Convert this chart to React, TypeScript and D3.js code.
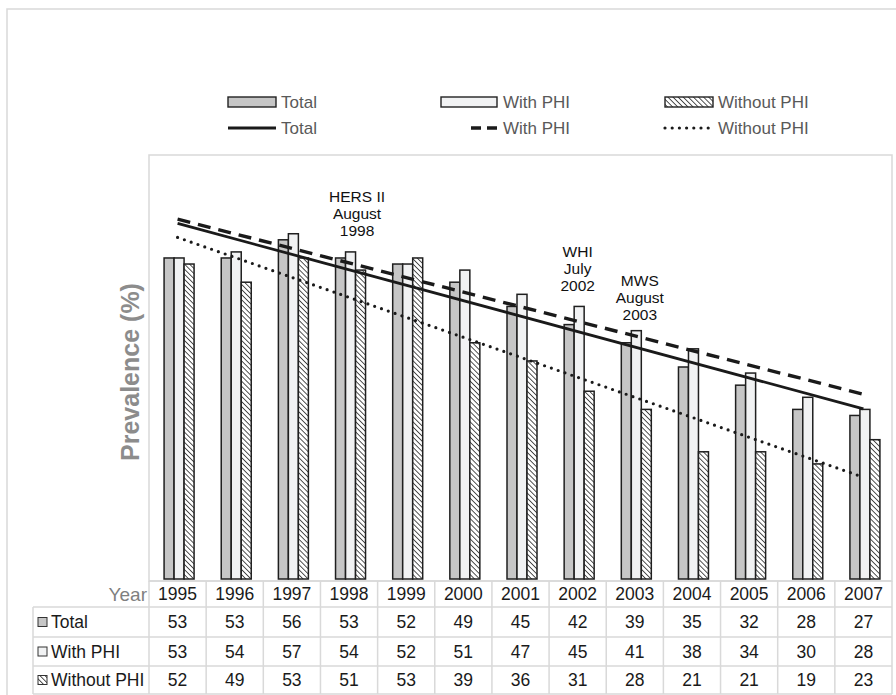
import React from 'react';
import * as d3 from 'd3';

// data
const years = ['1995', '1996', '1997', '1998', '1999', '2000', '2001', '2002', '2003', '2004', '2005', '2006', '2007'];
const seriesNames = ['Total', 'With PHI', 'Without PHI'];
const totalValues = [53, 53, 56, 53, 52, 49, 45, 42, 39, 35, 32, 28, 27];
const withPhiValues = [53, 54, 57, 54, 52, 51, 47, 45, 41, 38, 34, 30, 28];
const withoutPhiValues = [52, 49, 53, 51, 53, 39, 36, 31, 28, 21, 21, 19, 23];
// linear trend lines, first and last year values
const trendStart = [58.7, 59.4, 56.4];
const trendEnd = [28.1, 30.5, 16.8];
const annotationLines = [['HERS II', 'August', '1998'], ['WHI', 'July', '2002'], ['MWS', 'August', '2003']];
const annotationYears = ['1998', '2002', '2003'];
const annotationValues = [63.2, 54.1, 49.2];

const W = 896;
const H = 695;
const plotLeft = 149;
const plotRight = 892;
const plotTop = 155;
const plotBottom = 581;
const rowH = [26, 30, 29, 28];

const fills = ['#c6c6c6', '#f1f2f3', 'url(#hatch)'];
const grid = '#d9d9d9';
const font = 'Liberation Sans, Arial, sans-serif';

export default function App() {
  const series = [totalValues, withPhiValues, withoutPhiValues];
  const x = d3.scaleBand<string>().domain(years).range([plotLeft, plotRight]);
  const y = d3.scaleLinear().domain([0, 70]).range([plotBottom - 2, plotTop]);
  const barW = 10;
  const inner = d3.scaleBand<number>().domain([0, 1, 2]).range([0, barW * 3]);
  const groupOffset = (x.bandwidth() - barW * 3) / 2 + 1.5;
  const cx = (yr: string) => (x(yr) as number) + x.bandwidth() / 2;

  const line = d3.line<[number, number]>().x(d => d[0]).y(d => d[1]);
  const trendStyles = [
    { w: 2.8, dash: undefined, cap: 'butt' },
    { w: 3.4, dash: '13 8', cap: 'butt' },
    { w: 3.2, dash: '0 7.2', cap: 'round' },
  ];

  // table rows
  const rowTops: number[] = [];
  let acc = plotBottom;
  rowH.forEach(h => { rowTops.push(acc); acc += h; });
  const tableBottom = acc;

  const legendCols = [228, 441, 665];
  const legendRows = [102, 128];
  const legendText = '#595959';

  return (
    <svg width={W} height={H} style={{ position: 'absolute', left: 0, top: 0, background: '#fff', fontFamily: font }}>
      <defs>
        <pattern id="hatch" patternUnits="userSpaceOnUse" width="3.6" height="3.6" patternTransform="rotate(-45)">
          <rect width="3.6" height="3.6" fill="#fff" />
          <line x1="0" y1="0" x2="0" y2="3.6" stroke="#1a1a1a" strokeWidth="1.5" />
        </pattern>
      </defs>
      {/* outer frame */}
      <rect x={7} y={9} width={W} height={H} fill="none" stroke={grid} strokeWidth={1.5} />
      {/* plot area */}
      <rect x={plotLeft} y={plotTop} width={plotRight - plotLeft} height={plotBottom - plotTop} fill="none" stroke={grid} strokeWidth={1.5} />

      {/* legend */}
      {seriesNames.map((name, i) => (
        <g key={'lb' + i}>
          <rect x={legendCols[i]} y={legendRows[0] - 5} width={i === 1 ? 56 : 48} height={10} fill={fills[i]} stroke="#222" strokeWidth={1.4} />
          <text x={legendCols[i] + (i === 1 ? 62 : 53)} y={legendRows[0]} dy="0.35em" fontSize={17} fill={legendText}>{name}</text>
        </g>
      ))}
      {seriesNames.map((name, i) => {
        const x0 = i === 1 ? legendCols[i] + 30 : legendCols[i];
        const x1 = i === 1 ? legendCols[i] + 56 : legendCols[i] + 48;
        return (
          <g key={'ll' + i}>
            <path d={line([[x0, legendRows[1]], [x1, legendRows[1]]]) as string} stroke="#1a1a1a" strokeWidth={trendStyles[i].w}
              strokeDasharray={i === 1 ? '10 6' : trendStyles[i].dash} strokeLinecap={trendStyles[i].cap as any} fill="none" />
            <text x={legendCols[i] + (i === 1 ? 62 : 53)} y={legendRows[1]} dy="0.35em" fontSize={17} fill={legendText}>{name}</text>
          </g>
        );
      })}

      {/* bars */}
      {years.map((yr, j) => (
        <g key={yr} transform={`translate(${(x(yr) as number) + groupOffset},0)`}>
          {series.map((vals, i) => (
            <rect key={i} x={inner(i)} y={y(vals[j])} width={barW} height={y(0) - y(vals[j])}
              fill={fills[i]} stroke="#1f1f1f" strokeWidth={1.5} />
          ))}
        </g>
      ))}

      {/* trend lines */}
      {trendStart.map((s, i) => (
        <path key={'t' + i}
          d={line([[cx(years[0]), y(s)], [cx(years[years.length - 1]), y(trendEnd[i])]]) as string}
          fill="none" stroke="#1a1a1a" strokeWidth={trendStyles[i].w}
          strokeDasharray={trendStyles[i].dash} strokeLinecap={trendStyles[i].cap as any} />
      ))}

      {/* annotations */}
      {annotationLines.map((lines, k) => {
        const ax = cx(annotationYears[k]) + (k === 0 ? 8 : k === 2 ? 5 : 0);
        return (
          <text key={'a' + k} x={ax} y={y(annotationValues[k])} textAnchor="middle" fontSize={15.5} fill="#111">
            {lines.map((t, m) => (
              <tspan key={m} x={ax} dy={m === 0 ? '0.35em' : 17}>{t}</tspan>
            ))}
          </text>
        );
      })}

      {/* y title */}
      <text transform={`translate(139,${(plotTop + plotBottom) / 2 + 4}) rotate(-90)`} textAnchor="middle"
        fontSize={25} fontWeight="bold" fill="#8c8c8c">Prevalence (%)</text>

      {/* data table */}
      <g>
        <line x1={plotLeft} x2={plotRight} y1={rowTops[0]} y2={rowTops[0]} stroke={grid} strokeWidth={1.5} />
        {rowTops.slice(1).concat([tableBottom]).map((ty, r) => (
          <line key={'h' + r} x1={33} x2={plotRight} y1={ty} y2={ty} stroke={grid} strokeWidth={1.5} />
        ))}
        <line x1={33} x2={33} y1={rowTops[1]} y2={tableBottom} stroke={grid} strokeWidth={1.5} />
        {years.map(yr => (
          <line key={'v' + yr} x1={x(yr) as number} x2={x(yr) as number} y1={rowTops[0]} y2={tableBottom} stroke={grid} strokeWidth={1.5} />
        ))}
        <line x1={plotRight} x2={plotRight} y1={rowTops[0]} y2={tableBottom} stroke={grid} strokeWidth={1.5} />

        <text x={147} y={rowTops[0] + rowH[0] / 2} dy="0.35em" textAnchor="end" fontSize={19} fill="#7f7f7f">Year</text>
        {years.map(yr => (
          <text key={'y' + yr} x={cx(yr)} y={rowTops[0] + rowH[0] / 2} dy="0.35em" textAnchor="middle" fontSize={17.5} fill="#1a1a1a">{yr}</text>
        ))}
        {series.map((vals, i) => (
          <g key={'r' + i}>
            <rect x={38} y={rowTops[i + 1] + rowH[i + 1] / 2 - 4.5} width={9} height={9} fill={fills[i]} stroke="#333" strokeWidth={1} />
            <text x={51} y={rowTops[i + 1] + rowH[i + 1] / 2} dy="0.35em" fontSize={17.5} fill="#1a1a1a">{seriesNames[i]}</text>
            {vals.map((v, j) => (
              <text key={j} x={cx(years[j])} y={rowTops[i + 1] + rowH[i + 1] / 2} dy="0.35em" textAnchor="middle" fontSize={17.5} fill="#1a1a1a">{v}</text>
            ))}
          </g>
        ))}
      </g>
    </svg>
  );
}
